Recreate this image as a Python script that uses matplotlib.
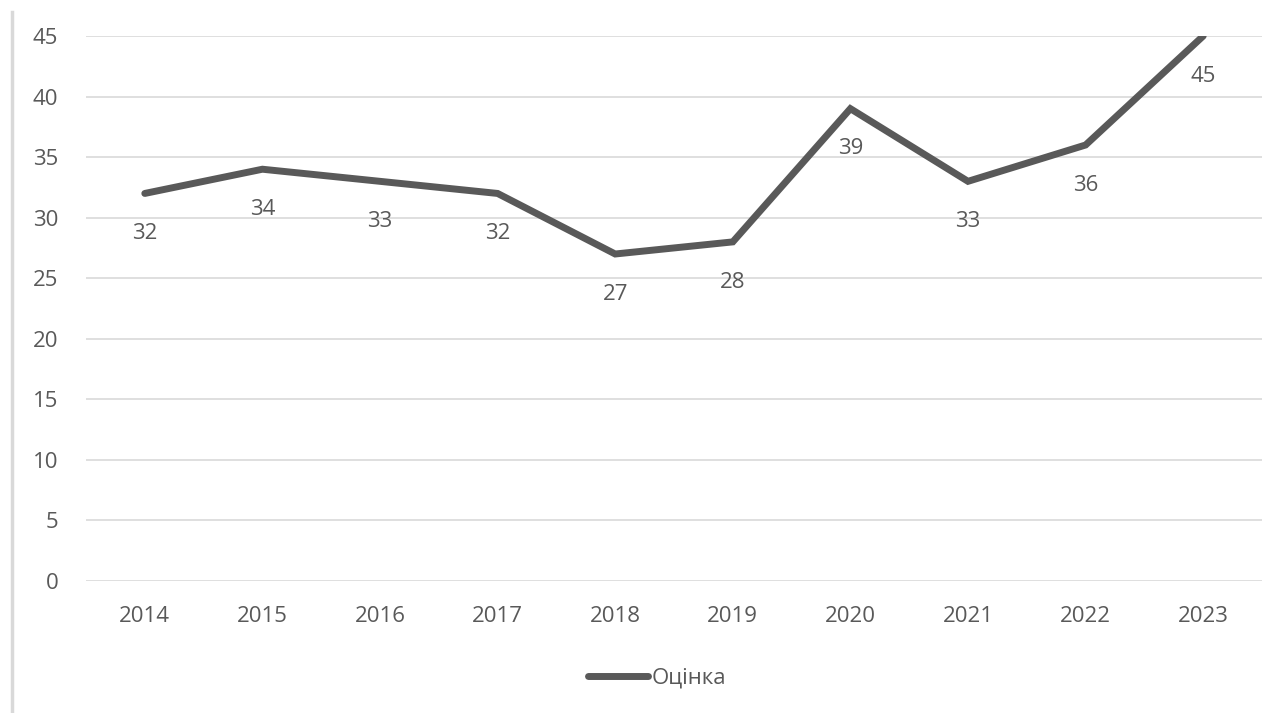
import numpy as np
import matplotlib.pyplot as plt
from matplotlib.lines import Line2D

years = ['2014', '2015', '2016', '2017', '2018', '2019', '2020', '2021', '2022', '2023']
scores = [32, 34, 33, 32, 27, 28, 39, 33, 36, 45]
yticks = [0, 5, 10, 15, 20, 25, 30, 35, 40, 45]

plt.rcParams['font.family'] = ['Open Sans', 'DejaVu Sans']
txt = '#595959'
fs = 16

fig = plt.figure(figsize=(12.84, 7.13), dpi=100)
ax = fig.add_axes([86 / 1284, 1 - 581 / 713, 1176 / 1284, 545 / 713])

x = np.arange(len(years))
ax.plot(x, scores, color='#595959', linewidth=5, solid_capstyle='round',
        solid_joinstyle='miter', label='Оцінка', zorder=3)
for xi, v in zip(x, scores):
    ax.annotate(str(v), (xi, v), xytext=(0, -29), textcoords='offset points',
                ha='center', va='center', fontsize=fs, color=txt)

ax.set_xlim(-0.5, len(years) - 0.5)
ax.set_ylim(0, 45)
ax.set_yticks(yticks)
ax.set_xticks(x)
ax.set_xticklabels(years)
ax.tick_params(length=0, labelsize=fs, labelcolor=txt)
ax.tick_params(axis='y', pad=20)
ax.tick_params(axis='x', pad=18)
ax.yaxis.grid(True, color='#d9d9d9', linewidth=1.2)
ax.set_axisbelow(True)
for s in ax.spines.values():
    s.set_visible(False)

leg = fig.legend(loc='center', bbox_to_anchor=(657 / 1284, 1 - 678 / 713), frameon=False,
                 fontsize=fs, handlelength=2.7, handletextpad=0.15)
for t in leg.get_texts():
    t.set_color(txt)

# thin frame line at the left edge
fig.add_artist(Line2D([12 / 1284, 12 / 1284], [0, 1 - 12 / 713], color='#d9d9d9',
                      linewidth=2.5, transform=fig.transFigure))

fig.savefig('out.png', dpi=100)
